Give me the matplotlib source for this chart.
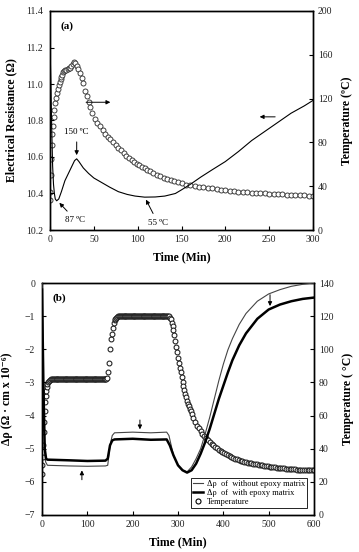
import matplotlib
matplotlib.use("Agg")
import matplotlib.pyplot as plt
from matplotlib.lines import Line2D

plt.rcParams['font.family'] = ['Liberation Serif', 'DejaVu Serif']

# ---------------- Panel (a) data ----------------
res_a_time = [0, 1, 2, 3, 4, 5, 6, 7.6, 10, 13, 17, 21, 25, 28, 30.4, 33, 38, 44, 50, 59, 68,
              78, 88, 97, 108, 120, 131, 143, 150, 160, 172, 185, 200, 215, 230, 245, 260,
              275, 290, 300]
res_a_val = [11.22, 11.0, 10.75, 10.55, 10.45, 10.40, 10.37, 10.36, 10.37, 10.41, 10.47, 10.51,
             10.55, 10.58, 10.59, 10.575, 10.54, 10.51, 10.485, 10.46, 10.435, 10.41, 10.395,
             10.386, 10.38, 10.381, 10.386, 10.40, 10.42, 10.45, 10.49, 10.53, 10.575, 10.63,
             10.69, 10.74, 10.79, 10.84, 10.88, 10.91]

temp_a_time = [0, 0.5, 1, 1.5, 2, 2.5, 3, 4, 5, 6, 7, 8, 9, 10, 11, 12, 13, 14, 15, 16, 17,
               18.5, 20, 21.5, 23, 24.5, 26, 27.5, 29, 30.5, 32, 34, 36, 38, 40, 42, 44, 46,
               48, 51, 54, 57, 60, 63, 66, 69, 72, 75, 78, 81, 84, 87, 90, 93, 96, 99, 102,
               105, 108, 111, 114, 118, 122, 126, 130, 134, 138, 142, 146, 150, 155, 160,
               165, 170, 175, 180, 185, 190, 195, 200, 205, 210, 215, 220, 225, 230, 235,
               240, 245, 250, 255, 260, 265, 270, 275, 280, 285, 290, 295, 300]
temp_a_val = [27, 35, 50, 65, 78, 88, 95, 103, 110, 116, 121, 125, 129, 132, 135, 138, 140,
              142, 144, 145, 146, 146.5, 147, 147.5, 148, 150, 152, 153, 152.5, 150, 147,
              143, 139, 134, 127, 122, 117, 112, 107, 101, 98, 95, 91, 88, 85, 83, 80.5,
              77.5, 75, 73, 70, 68, 66, 64, 62, 60.5, 59, 57.5, 56.5, 55, 53.5, 52, 50.5,
              49, 47.5, 46.5, 45.5, 44.5, 43.5, 42.5, 41.5, 41, 40, 39.5, 39, 38.5, 38,
              37.3, 36.8, 36.3, 35.9, 35.5, 35.1, 34.8, 34.5, 34.2, 34, 33.8, 33.5, 33.3,
              33, 32.8, 32.6, 32.4, 32.2, 32, 31.8, 31.6, 31.3, 31]

# ---------------- Panel (b) data ----------------
thin_b_time = [0, 2, 4, 6, 8, 12, 60, 100, 140, 145, 150, 155, 160, 200, 240, 275, 280, 285,
               290, 300, 310, 320, 330, 340, 350, 360, 370, 380, 390, 400, 410, 420, 435,
               450, 475, 500, 525, 550, 575, 600]
thin_b_val = [0.0, -2.0, -4.0, -5.0, -5.4, -5.5, -5.52, -5.53, -5.52, -5.5, -4.9, -4.6, -4.52,
              -4.5, -4.52, -4.5, -4.6, -4.9, -5.2, -5.5, -5.65, -5.7, -5.55, -5.3, -5.0,
              -4.55, -4.05, -3.5, -2.95, -2.45, -2.02, -1.68, -1.25, -0.92, -0.55, -0.33,
              -0.2, -0.1, -0.04, 0.0]
thick_b_time = [0, 3, 6, 9, 12, 60, 100, 140, 145, 150, 155, 160, 200, 240, 275, 282, 290,
                300, 310, 320, 330, 340, 350, 360, 370, 380, 390, 400, 410, 420, 435, 450,
                475, 500, 525, 550, 575, 600]
thick_b_val = [-0.2, -3.0, -5.0, -5.3, -5.33, -5.35, -5.37, -5.36, -5.3, -4.9, -4.75, -4.72,
               -4.7, -4.73, -4.72, -4.9, -5.2, -5.5, -5.65, -5.72, -5.65, -5.45, -5.15, -4.8,
               -4.4, -3.95, -3.5, -3.1, -2.7, -2.33, -1.88, -1.52, -1.08, -0.8, -0.65, -0.55,
               -0.48, -0.44]

temp_b_time = [0, 1, 2, 3, 4, 5, 6, 7, 8, 9, 10,
               12, 14, 16, 18, 20,
               22, 24, 26, 28, 30, 32, 34, 36, 38, 40,
               42, 44, 46, 48, 50, 52, 54, 56, 58, 60,
               62, 64, 66, 68, 70, 72, 74, 76, 78, 80,
               82, 84, 86, 88, 90, 92, 94, 96, 98, 100,
               102, 104, 106, 108, 110, 112, 114, 116, 118, 120,
               122, 124, 126, 128, 130, 132, 134, 136, 138, 140,
               142, 144,
               146, 148, 150, 152, 154, 156, 158,
               160, 162, 164, 166, 168, 170,
               172, 174, 176, 178, 180,
               182, 184, 186, 188, 190, 192, 194, 196, 198, 200,
               202, 204, 206, 208, 210, 212, 214, 216, 218, 220,
               222, 224, 226, 228, 230, 232, 234, 236, 238, 240,
               242, 244, 246, 248, 250, 252, 254, 256, 258, 260,
               262, 264, 266, 268, 270, 272, 274, 276, 278, 280,
               282, 284,
               286, 288, 290, 292, 294, 296, 298, 300, 302, 304,
               306, 308, 310, 312, 314, 316, 318, 320, 322, 324,
               326, 328, 330,
               334, 338, 342, 346, 350, 354, 358, 362, 366, 370,
               374, 378, 382, 386, 390, 394, 398, 402, 406, 410,
               414, 418, 422, 426, 430, 434, 438, 442, 446, 450,
               454, 458, 462, 466, 470, 474, 478, 482, 486, 490,
               494, 498, 502, 506, 510, 514, 518, 522, 526, 530,
               534, 538, 542, 546, 550, 554, 558, 562, 566, 570,
               574, 578, 582, 586, 590, 594, 598, 600]
temp_b_val = [25, 30, 35, 42, 50, 56, 63, 68, 72, 75, 77,
              79, 80, 81, 81.5, 82,
              82, 82, 82, 82, 82, 82, 82, 82, 82, 82,
              82, 82, 82, 82, 82, 82, 82, 82, 82, 82,
              82, 82, 82, 82, 82, 82, 82, 82, 82, 82,
              82, 82, 82, 82, 82, 82, 82, 82, 82, 82,
              82, 82, 82, 82, 82, 82, 82, 82, 82, 82,
              82, 82, 82, 82, 82, 82, 82, 82, 82, 82,
              82, 82.5,
              86, 92, 100, 106, 109, 113, 116,
              117.5, 118.5, 119, 119.5, 120, 120,
              120, 120, 120, 120, 120,
              120, 120, 120, 120, 120, 120, 120, 120, 120, 120,
              120, 120, 120, 120, 120, 120, 120, 120, 120, 120,
              120, 120, 120, 120, 120, 120, 120, 120, 120, 120,
              120, 120, 120, 120, 120, 120, 120, 120, 120, 120,
              120, 120, 120, 120, 120, 120, 120, 120, 120, 120,
              119, 118,
              116, 114, 111.5, 108.5, 105, 101.5, 98.5, 95, 91.5, 88.5,
              86, 83.5, 80.5, 78, 75.5, 73, 71, 69, 67, 65.5,
              64, 62.5, 61,
              58.5, 56, 54, 52.5, 50.5, 49, 47.5, 46.3, 45.2, 44,
              43, 42, 41, 40.2, 39.4, 38.6, 37.8, 37.2, 36.6, 36,
              35.4, 34.9, 34.4, 33.9, 33.5, 33.1, 32.8, 32.5, 32.2, 31.9,
              31.6, 31.3, 31.1, 30.9, 30.7, 30.5, 30.3, 30.1, 29.9, 29.7,
              29.5, 29.3, 29.1, 29, 28.8, 28.7, 28.5, 28.4, 28.3, 28.2,
              28.1, 28, 27.9, 27.8, 27.7, 27.6, 27.5, 27.45, 27.4, 27.3,
              27.25, 27.2, 27.15, 27.1, 27.05, 27, 27, 27]

DARK = '#222222'

fig = plt.figure(figsize=(3.59, 5.52), dpi=100)

def style_axes(ax):
    for sp in ax.spines.values():
        sp.set_linewidth(1.0)
        sp.set_color('black')
    ax.tick_params(direction='in', length=3, width=0.8, labelsize=7, colors='black',
                   labelcolor=DARK)

# ---------------- Panel (a) ----------------
axa = fig.add_axes([50/359, 1-230/552, 263/359, 219/552])
axa2 = axa.twinx()
axa.plot(res_a_time, res_a_val, color='black', lw=0.8, zorder=3)
axa2.plot(temp_a_time, temp_a_val, ls='none', marker='o', ms=3.6, mfc='white',
          mec='#333333', mew=0.65)
axa.set_zorder(axa2.get_zorder() + 1)
axa.patch.set_visible(False)
axa.set_xlim(0, 300)
axa.set_ylim(10.2, 11.4)
axa.set_xticks([0, 50, 100, 150, 200, 250, 300])
axa.set_yticks([10.2, 10.4, 10.6, 10.8, 11.0, 11.2, 11.4])
axa.set_yticklabels(['10.2', '10.4', '10.6', '10.8', '11.0', '11.2', '11.4'])
axa2.set_ylim(0, 200)
axa2.set_yticks([0, 40, 80, 120, 160, 200])
style_axes(axa)
style_axes(axa2)
axa.tick_params(axis='y', pad=5)
axa.set_xlabel('Time (Min)', fontsize=8.5, fontweight='bold', labelpad=5)
axa.set_ylabel('Electrical Resistance (Ω)', fontsize=8.5, fontweight='bold', labelpad=6)
axa2.set_ylabel('Temperature (ºC)', fontsize=8.5, fontweight='bold', labelpad=6)
axa.text(0.04, 0.93, '(a)', transform=axa.transAxes, fontsize=8, fontweight='bold',
         ha='left', va='center')

arr = dict(arrowstyle='-|>', color='black', lw=0.7, mutation_scale=6)
axa.annotate('', xy=(72, 10.90), xytext=(38, 10.90), arrowprops=arr)
axa.annotate('', xy=(236, 10.82), xytext=(260, 10.82), arrowprops=arr)
axa.annotate('150 ºC', xy=(30.4, 10.595), xytext=(30.5, 10.735), fontsize=6.5,
             ha='center', va='center', arrowprops=arr)
axa.annotate('87 ºC', xy=(8.5, 10.36), xytext=(29, 10.255), fontsize=6.5,
             ha='center', va='center', arrowprops=arr)
axa.annotate('55 ºC', xy=(108, 10.38), xytext=(123, 10.24), fontsize=6.5,
             ha='center', va='center', arrowprops=arr)

# ---------------- Panel (b) ----------------
axb = fig.add_axes([42/359, 1-515/552, 272/359, 232/552])
axb2 = axb.twinx()
axb.plot(thin_b_time, thin_b_val, color='#444444', lw=0.8, zorder=3)
axb.plot(thick_b_time, thick_b_val, color='black', lw=1.8, zorder=3)
axb2.plot(temp_b_time, temp_b_val, ls='none', marker='o', ms=3.5, mfc='white',
          mec='#1a1a1a', mew=0.75)
axb.set_zorder(axb2.get_zorder() + 1)
axb.patch.set_visible(False)
axb.set_xlim(0, 600)
axb.set_ylim(-7, 0)
axb.set_xticks([0, 100, 200, 300, 400, 500, 600])
axb.set_yticks([-7, -6, -5, -4, -3, -2, -1, 0])
axb2.set_ylim(0, 140)
axb2.set_yticks([0, 20, 40, 60, 80, 100, 120, 140])
style_axes(axb)
style_axes(axb2)
axb.tick_params(axis='y', pad=5)
axb.set_xlabel('Time (Min)', fontsize=8.5, fontweight='bold', labelpad=5)
axb.set_ylabel('Δρ (Ω · cm x 10⁻⁶)', fontsize=8.5, fontweight='bold', labelpad=8)
axb2.set_ylabel('Temperature ( °C)', fontsize=8.5, fontweight='bold', labelpad=6)
axb.text(0.04, 0.935, '(b)', transform=axb.transAxes, fontsize=8, fontweight='bold',
         ha='left', va='center')

axb.annotate('', xy=(503, -0.78), xytext=(503, -0.27), arrowprops=arr)
axb.annotate('', xy=(216, -4.5), xytext=(216, -4.05), arrowprops=arr)
axb.annotate('', xy=(88, -5.57), xytext=(88, -6.02), arrowprops=arr)

h_thin = Line2D([], [], color='#444444', lw=0.8)
h_thick = Line2D([], [], color='black', lw=1.8)
h_circ = Line2D([], [], ls='none', marker='o', ms=3.6, mfc='white', mec='black', mew=0.8)
leg = axb.legend([h_thin, h_thick, h_circ],
                 ['Δρ  of  without epoxy matrix', 'Δρ  of  with epoxy matrix', 'Temperature'],
                 loc='lower right', bbox_to_anchor=(0.975, 0.03), fontsize=6,
                 frameon=True, fancybox=False, edgecolor='black', framealpha=1,
                 handlelength=1.2, handletextpad=0.5, labelspacing=0.1, borderpad=0.25,
                 borderaxespad=0)
leg.get_frame().set_linewidth(0.6)

fig.savefig('out.png', dpi=100)
